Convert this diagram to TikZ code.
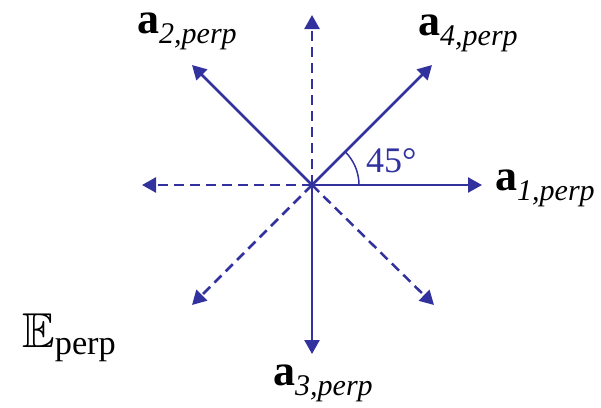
\documentclass[tikz,border=0pt]{standalone}
\usepackage{amssymb}
\usepackage{fontspec}
\setmainfont{Liberation Serif}
\usetikzlibrary{arrows.meta}
\definecolor{vblue}{RGB}{50,50,158}
\newcommand{\alab}[1]{{\fontsize{44}{44}\selectfont\bfseries a}\raisebox{-10pt}{\fontsize{30}{30}\selectfont\itshape #1,perp}}
\tikzset{
  vec/.style={draw=vblue, line width=2.5pt, -{Triangle[length=14pt,width=15pt]}},
  dvec/.style={vec, dash pattern=on 10pt off 6pt},
  lab/.style={anchor=base west, inner sep=0pt, text=black},
}
\begin{document}
\begin{tikzpicture}[x=1pt,y=-1pt]
\useasboundingbox (0,0) rectangle (601,407);
\coordinate (O) at (312,185);
\coordinate (t1) at (482,185);
\coordinate (t2) at (192,65);
\coordinate (t3) at (312,354);
\coordinate (t4) at (432,65);
\coordinate (tu) at (312,15);
\coordinate (tl) at (142,185);
\coordinate (tdl) at (192,305);
\coordinate (tdr) at (434,305);
\draw[dvec] (O) -- (tu);
\draw[dvec] (O) -- (tl);
\draw[dvec] (O) -- (tdl);
\draw[dvec] (O) -- (tdr);
\draw[vec] (O) -- (t1);
\draw[vec] (O) -- (t2);
\draw[vec] (O) -- (t3);
\draw[vec] (O) -- (t4);
\draw[vblue, line width=1.5pt] (O) ++(47,0) arc[start angle=0, end angle=-45, radius=47];
\node[lab, text=vblue] (ang) at (366,172) {\fontsize{36}{36}\selectfont 45°};
\node[lab] (a1) at (495,190) {\alab{1}};
\node[lab] (a2) at (137,33) {\alab{2}};
\node[lab] (a3) at (273,385) {\alab{3}};
\node[lab] (a4) at (418,35) {\alab{4}};
\node[lab] (E) at (22,347) {\fontsize{49}{49}\selectfont$\mathbb{E}_{\mathrm{perp}}$};
\end{tikzpicture}
\end{document}
